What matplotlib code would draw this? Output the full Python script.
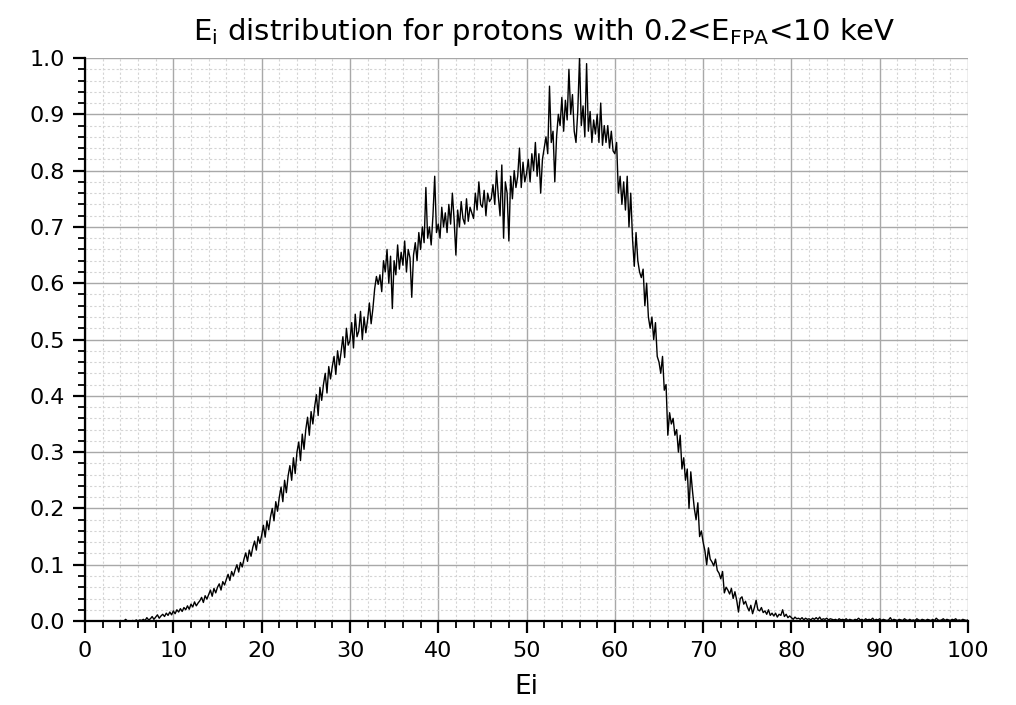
import numpy as np
import matplotlib
matplotlib.use("Agg")
import matplotlib.pyplot as plt
from matplotlib.ticker import MultipleLocator, FormatStrFormatter

plt.rcParams["font.family"] = ["DejaVu Sans"]
plt.rcParams["mathtext.fontset"] = "dejavusans"

# normalised counts, bins of 0.2 from Ei = 0 to 100 (5 bins per line = 1 unit)
counts = [
    0, 0, 0, 0, 0,
    0, 0, 0, 0, 0,
    0, 0, 0, 0, 0,
    0, 0, 0, 0, 0,
    0, 0, 0, 0.003, 0,
    0, 0, 0.001, 0, 0.002,
    0, 0.002, 0.001, 0.003, 0.001,
    0.006, 0.002, 0.004, 0.008, 0.003,
    0.007, 0.011, 0.005, 0.009, 0.012,
    0.008, 0.014, 0.010, 0.016, 0.011,
    0.018, 0.013, 0.020, 0.016, 0.022,
    0.017, 0.024, 0.020, 0.027, 0.021,
    0.030, 0.025, 0.034, 0.027, 0.032,
    0.036, 0.042, 0.033, 0.045, 0.039,
    0.047, 0.055, 0.044, 0.058, 0.050,
    0.060, 0.066, 0.055, 0.070, 0.064,
    0.074, 0.083, 0.072, 0.088, 0.080,
    0.091, 0.100, 0.087, 0.104, 0.096,
    0.110, 0.121, 0.106, 0.126, 0.115,
    0.131, 0.142, 0.126, 0.150, 0.138,
    0.152, 0.170, 0.149, 0.178, 0.162,
    0.185, 0.200, 0.178, 0.212, 0.195,
    0.220, 0.238, 0.212, 0.250, 0.228,
    0.258, 0.276, 0.250, 0.290, 0.262,
    0.300, 0.318, 0.285, 0.332, 0.305,
    0.340, 0.362, 0.330, 0.372, 0.350,
    0.380, 0.402, 0.365, 0.415, 0.392,
    0.420, 0.440, 0.405, 0.452, 0.430,
    0.452, 0.470, 0.438, 0.480, 0.455,
    0.478, 0.505, 0.468, 0.520, 0.490,
    0.498, 0.530, 0.485, 0.545, 0.505,
    0.515, 0.550, 0.500, 0.540, 0.512,
    0.535, 0.565, 0.528, 0.555, 0.590,
    0.612, 0.598, 0.615, 0.585, 0.640,
    0.620, 0.660, 0.600, 0.648, 0.555,
    0.640, 0.615, 0.668, 0.625, 0.655,
    0.632, 0.675, 0.620, 0.660, 0.645,
    0.575, 0.650, 0.672, 0.640, 0.690,
    0.660, 0.700, 0.672, 0.770, 0.680,
    0.700, 0.668, 0.720, 0.790, 0.690,
    0.705, 0.680, 0.735, 0.700, 0.725,
    0.690, 0.740, 0.705, 0.760, 0.712,
    0.650, 0.730, 0.700, 0.745, 0.715,
    0.705, 0.750, 0.710, 0.735, 0.725,
    0.715, 0.760, 0.730, 0.780, 0.740,
    0.735, 0.765, 0.720, 0.760, 0.745,
    0.750, 0.775, 0.740, 0.800, 0.755,
    0.720, 0.810, 0.680, 0.780, 0.760,
    0.675, 0.790, 0.750, 0.800, 0.770,
    0.790, 0.840, 0.770, 0.815, 0.780,
    0.795, 0.820, 0.780, 0.830, 0.800,
    0.850, 0.790, 0.830, 0.760, 0.820,
    0.840, 0.860, 0.830, 0.950, 0.850,
    0.870, 0.780, 0.860, 0.900, 0.880,
    0.930, 0.870, 0.925, 0.890, 0.980,
    0.900, 0.935, 0.870, 0.850, 0.905,
    1.000, 0.880, 0.915, 0.860, 0.990,
    0.870, 0.905, 0.850, 0.890, 0.865,
    0.900, 0.850, 0.920, 0.845, 0.880,
    0.850, 0.880, 0.840, 0.870, 0.835,
    0.830, 0.850, 0.760, 0.790, 0.740,
    0.780, 0.730, 0.790, 0.700, 0.760,
    0.680, 0.630, 0.690, 0.640, 0.620,
    0.610, 0.625, 0.560, 0.600, 0.540,
    0.520, 0.540, 0.500, 0.530, 0.470,
    0.460, 0.440, 0.470, 0.410, 0.420,
    0.330, 0.370, 0.350, 0.360, 0.330,
    0.340, 0.300, 0.330, 0.270, 0.290,
    0.250, 0.270, 0.200, 0.265, 0.230,
    0.200, 0.180, 0.210, 0.150, 0.160,
    0.140, 0.125, 0.100, 0.130, 0.110,
    0.105, 0.098, 0.110, 0.090, 0.085,
    0.075, 0.088, 0.050, 0.060, 0.055,
    0.048, 0.058, 0.040, 0.052, 0.037,
    0.016, 0.040, 0.043, 0.030, 0.035,
    0.025, 0.018, 0.028, 0.013, 0.024,
    0.037, 0.020, 0.018, 0.024, 0.015,
    0.018, 0.012, 0.020, 0.010, 0.014,
    0.009, 0.014, 0.007, 0.012, 0.010,
    0.020, 0.008, 0.012, 0.006, 0.009,
    0.006, 0.003, 0.007, 0.004, 0.005,
    0.003, 0.006, 0.002, 0.005, 0.003,
    0.004, 0.002, 0.005, 0.003, 0.006,
    0.003, 0.007, 0.002, 0.004, 0.003,
    0.005, 0.002, 0.004, 0.003, 0.002,
    0.003, 0.001, 0.004, 0.002, 0.003,
    0.002, 0.004, 0.001, 0.003, 0.002,
    0.001, 0.003, 0.002, 0.005, 0.002,
    0.003, 0.001, 0.004, 0.002, 0.003,
    0.002, 0.005, 0.001, 0.003, 0.002,
    0.004, 0.001, 0.003, 0.002, 0.001,
    0.002, 0.006, 0.001, 0.003, 0.002,
    0.001, 0.003, 0.002, 0.001, 0.004,
    0.002, 0.001, 0.003, 0.001, 0.002,
    0.001, 0.004, 0.002, 0.001, 0.003,
    0.002, 0.001, 0.003, 0.002, 0.001,
    0.003, 0.001, 0.005, 0.002, 0.001,
    0.002, 0.004, 0.001, 0.003, 0.002,
    0.001, 0.003, 0.002, 0.004, 0.001,
    0.002, 0.001, 0.003, 0.002, 0.001,
    0.002,
]
ei = np.linspace(0, 100, len(counts))

fig = plt.figure(figsize=(10.16, 7.05), dpi=100)
ax = fig.add_axes([0.0837, 0.1191, 0.8691, 0.7986])

ax.plot(ei, counts, color="black", lw=1.0)

ax.set_xlim(0, 100)
ax.set_ylim(0, 1.0)
ax.xaxis.set_major_locator(MultipleLocator(10))
ax.xaxis.set_minor_locator(MultipleLocator(2))
ax.yaxis.set_major_locator(MultipleLocator(0.1))
ax.yaxis.set_minor_locator(MultipleLocator(0.02))
ax.yaxis.set_major_formatter(FormatStrFormatter("%.1f"))

ax.grid(which="major", color="#a8a8a8", lw=1.0)
ax.grid(which="minor", color="#d4d4d4", lw=0.8, linestyle=(0, (2, 2)))
ax.set_axisbelow(True)

for side in ["top", "right"]:
    ax.spines[side].set_visible(False)
for side in ["left", "bottom"]:
    ax.spines[side].set_linewidth(1.6)

ax.tick_params(which="major", direction="out", length=8.5, width=1.6,
               labelsize=16, pad=6)
ax.tick_params(which="minor", direction="out", length=5, width=1.3)

ax.set_xlabel("Ei", fontsize=19, labelpad=9)
ax.set_title(r"E$_\mathregular{i}$ distribution for protons with 0.2<E$_\mathregular{FPA}$<10 keV",
             fontsize=21, pad=13, x=0.52)

fig.savefig("out.png", dpi=100)
